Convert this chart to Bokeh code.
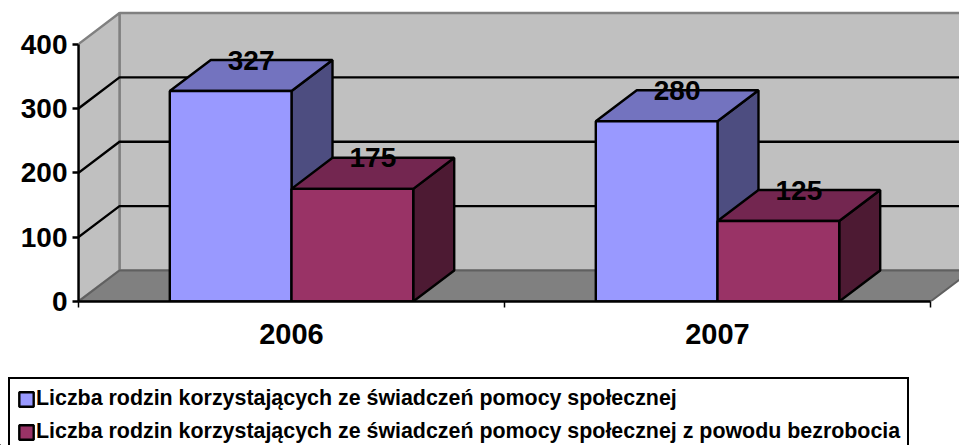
from bokeh.plotting import figure
from bokeh.layouts import column
from bokeh.models import (Range1d, LinearAxis, FixedTicker, Legend, LegendItem)
from bokeh.core.properties import value
from bokeh.embed import file_html
from bokeh.resources import INLINE

categories = ["2006", "2007"]
series_names = ["Liczba rodzin korzystających ze świadczeń pomocy społecznej",
                "Liczba rodzin korzystających ze świadczeń pomocy społecznej z powodu bezrobocia"]
series_a = [327, 280]
series_b = [175, 125]
y_ticks = [0, 100, 200, 300, 400]
front_colors = ["#9999ff", "#993366"]
top_colors = ["#7373bf", "#732650"]
side_colors = ["#4d4d80", "#4d1a33"]

W, H1, H2 = 959, 370, 75
LEFT, BOTTOM = 78, 69.5           # figure px of the plot origin
PX_X, PX_Y = 426.0, 0.6425        # px per category, px per value
DX, DY = 41 / PX_X, 31 / PX_Y     # depth offset of the 3D box
BAR = 1 / 3.5
FONT = "Liberation Sans"
LW = 2.4

p = figure(width=W, height=H1, output_backend="svg", toolbar_location=None,
           x_range=Range1d(0, (W - LEFT) / PX_X), y_range=Range1d(0, (H1 - BOTTOM) / PX_Y),
           x_axis_location=None, y_axis_location=None, frame_align=False,
           min_border_left=LEFT, min_border_bottom=int(BOTTOM), min_border_top=0, min_border_right=0)
p.outline_line_color = None
p.grid.visible = False
p.background_fill_color = "white"
p.border_fill_color = "white"

N = len(categories)
top = y_ticks[-1]
p.patch([DX, N + DX, N + DX, DX], [DY, DY, top + DY, top + DY], fill_color="#c0c0c0", line_color="#808080", line_width=LW)
p.patch([0, DX, DX, 0], [0, DY, top + DY, top], fill_color="#c0c0c0", line_color="#808080", line_width=LW)
p.patch([0, DX, N + DX, N], [0, DY, DY, 0], fill_color="#808080", line_color="#606060", line_width=2)
for t in y_ticks[1:-1]:
    p.line([0, DX, N + DX], [t, t + DY, t + DY], line_color="black", line_width=LW)

gap = (1 - 2 * BAR) / 2
for i in range(N):
    for s, vals in enumerate([series_a, series_b]):
        x0 = i + gap + s * BAR
        x1 = x0 + BAR
        v = vals[i]
        p.patch([x1, x1 + DX, x1 + DX, x1], [0, DY, v + DY, v], fill_color=side_colors[s], line_color="black", line_width=LW)
        p.patch([x0, x1, x1 + DX, x0 + DX], [v, v, v + DY, v + DY], fill_color=top_colors[s], line_color="black", line_width=LW)
        p.vbar(x=[(x0 + x1) / 2], width=BAR, bottom=0, top=[v], fill_color=front_colors[s], line_color="black", line_width=LW)
for i in range(N):
    for s, vals in enumerate([series_a, series_b]):
        xc = i + gap + s * BAR + BAR / 2
        p.text(x=[xc + DX / 2], y=[vals[i] + DY], text=[str(vals[i])], text_align="center", text_baseline="middle",
               text_font=value(FONT), text_font_style="bold", text_font_size="28px", text_color="black")

yax = LinearAxis(ticker=FixedTicker(ticks=y_ticks), bounds=(0, top))
yax.axis_line_color = "black"; yax.axis_line_width = LW
yax.major_tick_line_color = "black"; yax.major_tick_line_width = LW
yax.major_tick_in = 0; yax.major_tick_out = 6; yax.minor_tick_line_color = None
yax.major_label_text_font = FONT; yax.major_label_text_font_style = "bold"
yax.major_label_text_font_size = "28px"; yax.major_label_text_color = "black"; yax.major_label_standoff = 5
p.add_layout(yax, "left")

xax = LinearAxis(ticker=FixedTicker(ticks=[i + 0.5 for i in range(N)], minor_ticks=list(range(N + 1))), bounds=(0, N))
xax.major_label_overrides = {i + 0.5: c for i, c in enumerate(categories)}
xax.axis_line_color = "black"; xax.axis_line_width = LW
xax.major_tick_line_color = None; xax.major_tick_out = 0; xax.major_tick_in = 0
xax.minor_tick_line_color = "black"; xax.minor_tick_line_width = 1.5; xax.minor_tick_in = 0; xax.minor_tick_out = 6
xax.major_label_text_font = FONT; xax.major_label_text_font_style = "bold"
xax.major_label_text_font_size = "29px"; xax.major_label_text_color = "black"; xax.major_label_standoff = 16
p.add_layout(xax, "below")

# legend strip below the chart
p2 = figure(width=W, height=H2, output_backend="svg", toolbar_location=None,
            x_range=Range1d(0, 1), y_range=Range1d(0, 1),
            x_axis_location=None, y_axis_location=None, frame_align=False,
            min_border_left=0, min_border_bottom=0, min_border_top=0, min_border_right=0)
p2.outline_line_color = None
p2.grid.visible = False
swatches = [p2.vbar(x=[-1], width=0.1, bottom=-1, top=[-0.5], fill_color=front_colors[k], line_color="black", line_width=LW)
            for k in range(2)]
legend = Legend(items=[LegendItem(label=series_names[k], renderers=[swatches[k]]) for k in range(2)],
                location=(8, -8), orientation="vertical", margin=0, padding=7, spacing=8,
                glyph_width=18, glyph_height=18, label_standoff=1,
                label_text_font=FONT, label_text_font_style="bold", label_text_font_size="21.4px", label_text_color="black",
                border_line_color="black", border_line_alpha=1, border_line_width=LW,
                background_fill_color="white", background_fill_alpha=1)
p2.add_layout(legend, "center")

open("out.html", "w").write(file_html(column(p, p2, spacing=0), INLINE))
